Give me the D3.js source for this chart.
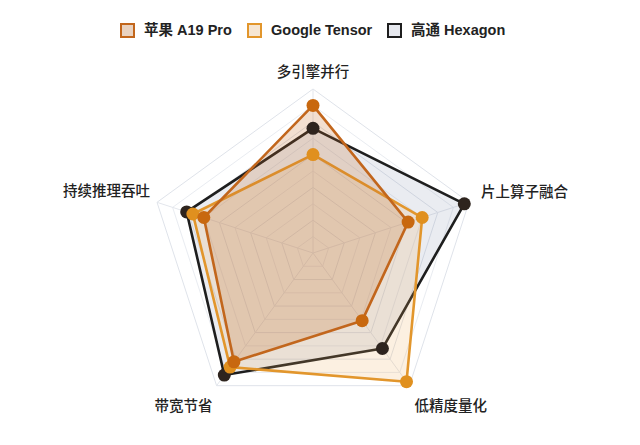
<!DOCTYPE html>
<html>
<head>
<meta charset="utf-8">
<script src="https://cdn.jsdelivr.net/npm/d3@7"></script>
<style>
  html, body { margin: 0; padding: 0; background: #fff; }
  body { width: 640px; height: 445px; overflow: hidden; }
  text { font-family: "Noto Sans CJK SC", "Noto Sans", sans-serif; }
  text.legend { font-family: "Liberation Sans", "Noto Sans CJK SC", sans-serif; }
</style>
</head>
<body>
<div id="chart"></div>
<script>
"use strict";

// Data
const axes = ["多引擎并行", "片上算子融合", "低精度量化", "带宽节省", "持续推理吞吐"];
const seriesNames = ["苹果 A19 Pro", "Google Tensor", "高通 Hexagon"];
const appleValues = [90, 61, 51, 82, 70];
const googleValues = [60, 70, 97, 86, 77];
const hexagonValues = [76, 97, 72, 92, 81];
const gridLevels = d3.range(1, 11).map(d => d * 10);

const series = [
    { name: seriesNames[0], values: appleValues, stroke: "#c2661c", dot: "#c8680f", fill: "rgba(196,110,40,0.22)", swatch: "#e9d2c0" },
    { name: seriesNames[1], values: googleValues, stroke: "#e2962c", dot: "#e0901f", fill: "rgba(240,170,90,0.18)", swatch: "#f6e6d3" },
    { name: seriesNames[2], values: hexagonValues, stroke: "#1e1e1e", dot: "#2e241e", fill: "rgba(140,150,175,0.18)", swatch: "#e6e8ee" }
];

const width = 640, height = 445;
const cx = 313, cy = 253, radius = 164;

const svg = d3.select("#chart").append("svg")
    .attr("width", width)
    .attr("height", height);

const angle = d3.scalePoint().domain(axes).range([0, 2 * Math.PI * (axes.length - 1) / axes.length]);
const r = d3.scaleLinear().domain([0, 100]).range([0, radius]);

const pt = (axis, v) => {
    const a = angle(axis);
    return [cx + r(v) * Math.sin(a), cy - r(v) * Math.cos(a)];
};

const line = d3.line().curve(d3.curveLinearClosed);

// Grid rings
const grid = svg.append("g");
grid.selectAll("path.ring")
    .data(gridLevels)
    .join("path")
    .attr("class", "ring")
    .attr("d", lv => line(axes.map(a => pt(a, lv))))
    .attr("fill", "none")
    .attr("stroke", (lv, i) => i % 2 ? "#dfe3ea" : "#e9ecf1")
    .attr("stroke-width", 1);

grid.selectAll("line.spoke")
    .data(axes)
    .join("line")
    .attr("class", "spoke")
    .attr("x1", cx).attr("y1", cy)
    .attr("x2", a => pt(a, 100)[0])
    .attr("y2", a => pt(a, 100)[1])
    .attr("stroke", "#e3e6ec")
    .attr("stroke-width", 1);

// Series areas, drawn back to front
const order = [2, 1, 0];
const layers = svg.append("g");
order.forEach(i => {
    const s = series[i];
    layers.append("path")
        .attr("d", line(axes.map((a, k) => pt(a, s.values[k]))))
        .attr("fill", s.fill)
        .attr("stroke", s.stroke)
        .attr("stroke-width", 2.6)
        .attr("stroke-linejoin", "round");
});
order.forEach(i => {
    const s = series[i];
    layers.append("g").selectAll("circle")
        .data(s.values)
        .join("circle")
        .attr("cx", (v, k) => pt(axes[k], v)[0])
        .attr("cy", (v, k) => pt(axes[k], v)[1])
        .attr("r", 6.5)
        .attr("fill", s.dot);
});

// Axis labels
const labelPos = [
    { dx: 0, dy: -16, anchor: "middle" },
    { dx: 12, dy: -9, anchor: "start" },
    { dx: 5, dy: 21, anchor: "start" },
    { dx: -4, dy: 21, anchor: "end" },
    { dx: -7, dy: -10, anchor: "end" }
];
svg.append("g").selectAll("text")
    .data(axes)
    .join("text")
    .attr("x", (a, i) => pt(a, 100)[0] + labelPos[i].dx)
    .attr("y", (a, i) => pt(a, 100)[1] + labelPos[i].dy)
    .attr("text-anchor", (a, i) => labelPos[i].anchor)
    .attr("dominant-baseline", "middle")
    .attr("font-size", 14.5)
    .attr("font-weight", 500)
    .attr("fill", "#222")
    .text(a => a);

// Legend
const legendX = [120, 247, 387];
const legend = svg.append("g");
series.forEach((s, i) => {
    const g = legend.append("g").attr("transform", `translate(${legendX[i]},23)`);
    g.append("rect")
        .attr("x", 1).attr("y", 1)
        .attr("width", 13).attr("height", 13)
        .attr("fill", s.swatch)
        .attr("stroke", s.stroke)
        .attr("stroke-width", 2);
    g.append("text")
        .attr("class", "legend")
        .attr("x", 24).attr("y", 8)
        .attr("dominant-baseline", "middle")
        .attr("font-size", 14.5)
        .attr("font-weight", 700)
        .attr("fill", "#222")
        .text(s.name);
});
</script>
</body>
</html>
